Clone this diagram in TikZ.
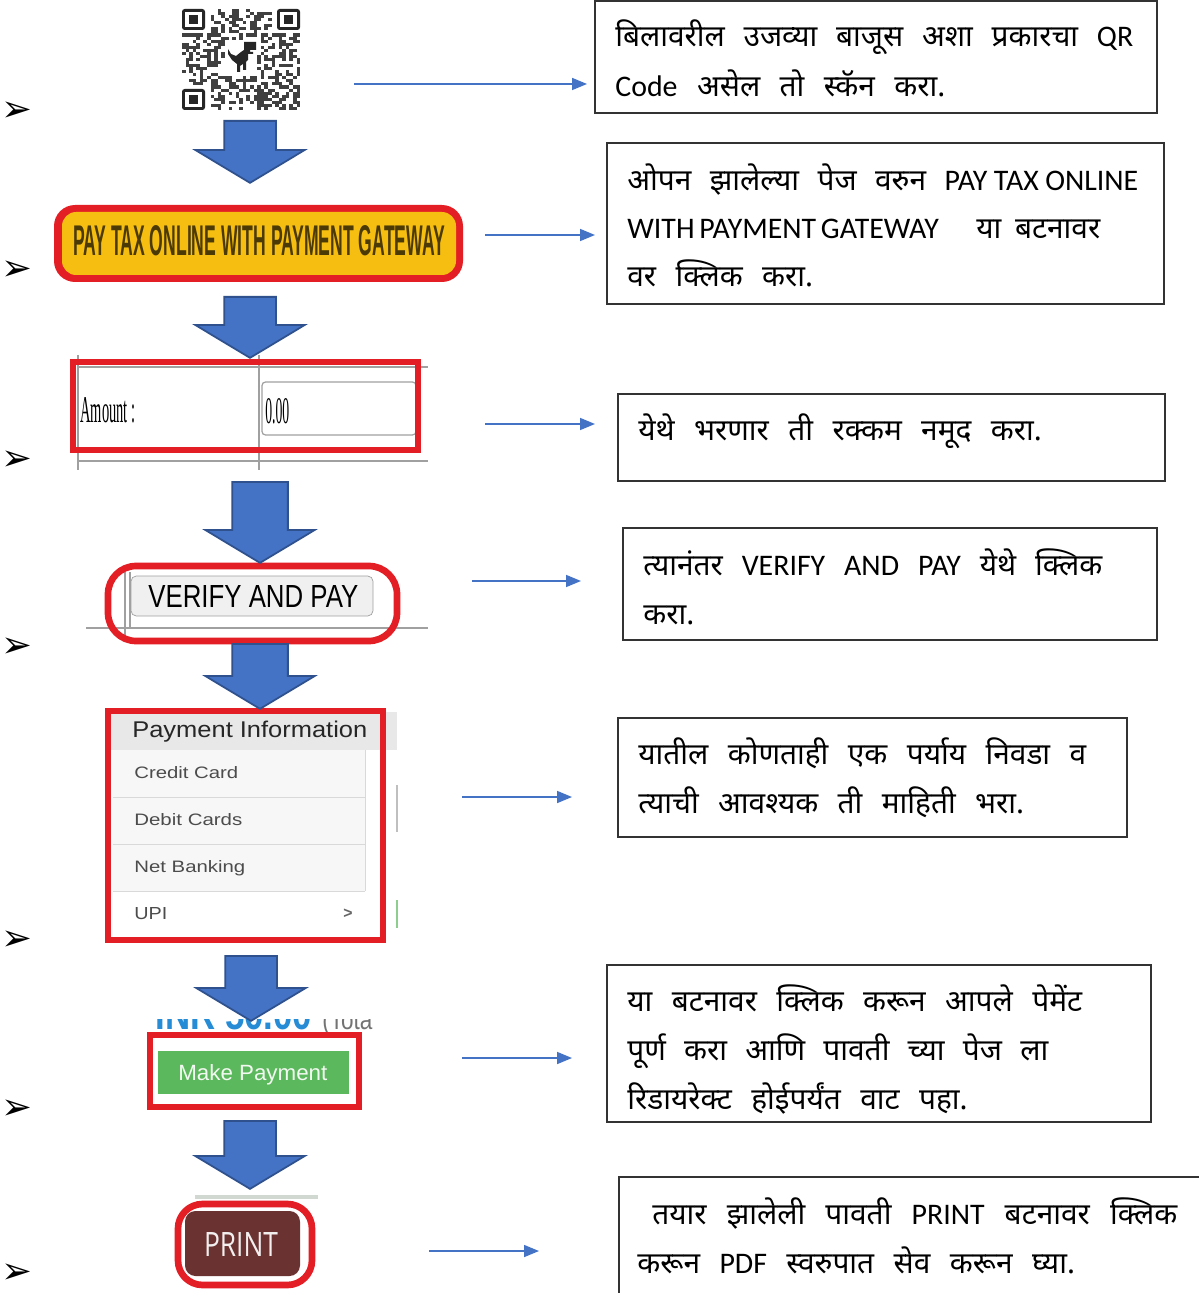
\documentclass[tikz,border=0pt]{standalone}
\usepackage{fontspec}
\setmainfont{Carlito}
\setsansfont{Liberation Sans}
\newfontfamily\timesfont{Liberation Serif}
\newfontfamily\opensans{Open Sans}
\newfontfamily\deva[Script=Devanagari, WordSpace=2.5]{Noto Sans}
\newfontfamily\symfont{DejaVu Sans}
\usetikzlibrary{arrows.meta, shapes.arrows}
\definecolor{flowblue}{RGB}{68,114,196}
\definecolor{flowedge}{RGB}{47,82,143}
\definecolor{markred}{RGB}{227,30,36}
\definecolor{gateyellow}{RGB}{246,190,16}
\definecolor{gatetext}{RGB}{75,58,5}
\definecolor{webgray}{RGB}{160,160,160}
\definecolor{paygreen}{RGB}{92,184,92}
\definecolor{printbrown}{RGB}{107,50,50}
\definecolor{inrblue}{RGB}{38,140,214}
\newcommand\en[1]{{\rmfamily #1}}
\newcommand\jl[2]{\makebox[#1][s]{#2}}

\begin{document}
\begin{tikzpicture}[x=0.02cm, y=-0.02cm,
    infobox/.style={draw=black!80, line width=1.1pt, inner sep=0pt},
    txtline/.style={anchor=base west, inner sep=0pt, font=\deva\fontsize{17}{20}\selectfont},
    shot/.style={anchor=base west, inner sep=0pt},
    link/.style={draw=flowblue, line width=0.9pt, -{Triangle[length=0.3cm, width=0.24cm]}},
    downarr/.style={single arrow, rotate=-90, anchor=tail, fill=flowblue, draw=flowedge,
      line width=1pt, inner xsep=0pt, inner ysep=0.5cm, single arrow head extend=0.58cm,
      single arrow tip angle=118},
    redmark/.style={draw=markred, line width=3.8pt},
    bullet/.style={inner sep=0pt, font=\symfont\fontsize{21}{21}\selectfont},
  ]
  \useasboundingbox (0,0) rectangle (1198,1293);
  \fill[white] (0,0) rectangle (1198,1293);

  % QR code
  \node[inner sep=0pt, minimum width=2.36cm, minimum height=2.02cm] (qr) at (241,59.5) {};
  \pgfmathsetseed{11}
  \foreach \i in {0,...,32}{
    \foreach \j in {0,...,32}{
      \pgfmathtruncatemacro{\keep}{(rnd<0.45)&&!(\i<8&&\j<8)&&!(\i>24&&\j<8)&&!(\i<8&&\j>24)&&!(\i>11&&\i<21&&\j>9&&\j<22)}
      \ifnum\keep=1 \fill[black!75] (182+\i*3.58,9+\j*3.06) rectangle ++(3.58,3.06); \fi
    }}
  \foreach \fx/\fy in {182/9, 277/9, 182/89}{
    \fill[black!85, rounded corners=1.5pt] (\fx,\fy) rectangle ++(23,21);
    \fill[white] (\fx+3.4,\fy+3) rectangle ++(16.2,15);
    \fill[black!85] (\fx+6.8,\fy+6) rectangle ++(9.4,9);
  }
  \fill[black!85] (244,42) -- (256,42) -- (256,50) -- (250,50) -- (250,52) -- (253,52) -- (253,54)
    -- (248,54) -- (248,60) -- (246,62) -- (246,70) -- (243,70) -- (243,64) -- (240,66) -- (240,72)
    -- (237,72) -- (237,64) -- (232,60) -- (228,54) -- (228,49) -- (231,54) -- (236,56) -- (241,52)
    -- (244,50) -- cycle;

  % pay tax button
  \fill[markred, rounded corners=12pt] (54,205) rectangle (463,282);
  \fill[gateyellow, rounded corners=8pt] (62,212) rectangle (456,275);
  \node[inner sep=0pt, text=gatetext] (paytax) at (259,241)
    {\resizebox{7.44cm}{0.6cm}{\sffamily\bfseries PAY TAX ONLINE WITH PAYMENT GATEWAY}};

  % amount form
  \draw[webgray, line width=0.8pt] (78,355) -- (78,470) (259,355) -- (259,470)
    (78,367) -- (428,367) (78,461) -- (428,461);
  \draw[webgray, line width=0.7pt, rounded corners=2pt] (262,382) rectangle (416,435);
  \node[shot] (amtlbl) at (80,423) {\resizebox{1.1cm}{0.5cm}{\timesfont Amount :}};
  \node[shot] (amtval) at (265,423) {\resizebox{0.48cm}{0.5cm}{\timesfont 0.00}};
  \draw[redmark] (73,362) rectangle (418,450);

  % verify button
  \draw[webgray, line width=0.8pt] (86,628) -- (428,628) (125,572) -- (125,640) (130,572) -- (130,628);
  \draw[fill=black!6, draw=webgray, rounded corners=3pt] (131,576) rectangle (373,616);
  \node[shot] (verify) at (148,607) {\resizebox{4.2cm}{0.44cm}{\sffamily VERIFY AND PAY}};
  \draw[redmark, rounded corners=16pt] (108,566) rectangle (397,641);

  % payment information
  \fill[black!9] (110,712) rectangle (397,750);
  \fill[black!3] (113,750) rectangle (365,891);
  \draw[black!15] (113,797) -- (365,797) (113,844) -- (365,844) (113,891) -- (365,891)
    (365,750) -- (365,891);
  \node[shot, text=black!85] (payhead) at (132,737) {\resizebox{4.7cm}{0.33cm}{\sffamily Payment Information}};
  \foreach \t/\w/\yy/\nm in {Credit Card/2.08cm/778/cc, Debit Cards/2.16cm/825/dc,
      Net Banking/2.22cm/872/nb, UPI/0.66cm/919/upi}
    \node[shot, text=black!70] (\nm) at (134,\yy) {\resizebox{\w}{0.24cm}{\sffamily \t}};
  \node[inner sep=0pt, text=black!60] (upiarrow) at (348,914) {\sffamily\bfseries\small >};
  \draw[black!25, line width=0.8pt] (397,785) -- (397,832);
  \draw[paygreen!70, line width=0.8pt] (397,900) -- (397,928);
  \draw[redmark] (108,711) rectangle (383,940);

  % make payment
  \begin{scope}
    \clip (150,1019) rectangle (380,1031);
    \node[shot, text=inrblue] (inr) at (155,1029) {\resizebox{3.14cm}{0.6cm}{\sffamily\bfseries INR 50.00}};
    \node[shot, text=black!55] (total) at (322,1029) {\resizebox{1.0cm}{0.4cm}{\sffamily (Tota}};
  \end{scope}
  \fill[paygreen] (158,1051) rectangle (349,1094);
  \node[shot, text=white!92!paygreen] (makepay) at (178,1080) {\resizebox{2.98cm}{0.32cm}{\sffamily Make Payment}};
  \draw[redmark] (150,1035) rectangle (359,1107);

  % print
  \draw[green!15!black!18, line width=2pt] (195,1197) -- (318,1197);
  \fill[printbrown, rounded corners=6pt] (185,1211) rectangle (300,1276);
  \node[inner sep=0pt, text=white!92!printbrown] (print) at (241,1244) {\resizebox{1.48cm}{0.48cm}{\opensans PRINT}};
  \draw[redmark, rounded corners=14pt] (178,1204) rectangle (312,1285);

  % block arrows
  \node[downarr, minimum height=1.24cm] (d1) at (250,120) {};
  \node[downarr, minimum height=1.22cm] (d2) at (250,296) {};
  \node[downarr, minimum height=1.62cm, inner ysep=0.54cm, single arrow head extend=0.54cm] (d3) at (260,481) {};
  \node[downarr, minimum height=1.30cm, inner ysep=0.54cm, single arrow head extend=0.54cm] (d4) at (260,643) {};
  \node[downarr, minimum height=1.30cm] (d5) at (251,955) {};
  \node[downarr, minimum height=1.36cm] (d6) at (250,1120) {};

  % bullets
  \foreach \yy [count=\k] in {112,271,461,648,941,1110,1274}
    \node[bullet] (m\k) at (17,\yy) {➢};

  % text boxes
  \node[infobox, minimum width=11.24cm, minimum height=2.24cm] (box1) at (876,57) {};
  \node[infobox, minimum width=11.14cm, minimum height=3.22cm] (box2) at (885.5,223.5) {};
  \node[infobox, minimum width=10.94cm, minimum height=1.74cm] (box3) at (891.5,437.5) {};
  \node[infobox, minimum width=10.68cm, minimum height=2.24cm] (box4) at (890,584) {};
  \node[infobox, minimum width=10.18cm, minimum height=2.38cm] (box5) at (872.5,777.5) {};
  \node[infobox, minimum width=10.88cm, minimum height=3.14cm] (box6) at (879,1043.5) {};
  \node[infobox, minimum width=11.9cm, minimum height=2.7cm] (box7) at (916,1244.5) {};

  \node[txtline] (b1a) at (615,47) {\jl{10.36cm}{बिलावरील उजव्या बाजूस अशा प्रकारचा \en{QR}}};
  \node[txtline] (b1b) at (615,97) {\en{Code} असेल तो स्कॅन करा.};
  \node[txtline] (b2a) at (627,191) {\jl{10.22cm}{ओपन झालेल्या पेज वरुन \en{PAY TAX ONLINE}}};
  \node[txtline] (b2b) at (627,239) {\jl{9.46cm}{\en{WITH PAYMENT GATEWAY}\hspace{0.8em} या बटनावर}};
  \node[txtline] (b2c) at (627,287) {वर क्लिक करा.};
  \node[txtline] (b3a) at (638,440) {येथे भरणार ती रक्कम नमूद करा.};
  \node[txtline] (b4a) at (643,575) {\jl{9.18cm}{त्यानंतर \en{VERIFY} \en{AND} \en{PAY} येथे क्लिक}};
  \node[txtline] (b4b) at (643,624) {करा.};
  \node[txtline] (b5a) at (638,764) {\jl{8.96cm}{यातील कोणताही एक पर्याय निवडा व}};
  \node[txtline] (b5b) at (638,813) {त्याची आवश्यक ती माहिती भरा.};
  \node[txtline] (b6a) at (627,1011) {\jl{9.1cm}{या बटनावर क्लिक करून आपले पेमेंट}};
  \node[txtline] (b6b) at (627,1060) {\jl{8.42cm}{पूर्ण करा आणि पावती च्या पेज ला}};
  \node[txtline] (b6c) at (627,1109) {रिडायरेक्ट होईपर्यंत वाट पहा.};
  \node[txtline] (b7a) at (652,1224) {\jl{10.5cm}{तयार झालेली पावती \en{PRINT} बटनावर क्लिक}};
  \node[txtline] (b7b) at (637,1273) {करून \en{PDF} स्वरुपात सेव करून घ्या.};

  % links
  \foreach \k/\xa/\xb/\yy in {1/354/587/84, 2/485/595/235, 3/485/595/424, 4/472/581/581,
      5/462/572/797, 6/462/572/1058, 7/429/539/1251}{
    \coordinate (s\k) at (\xa,\yy);
    \coordinate (e\k) at (\xb,\yy);
    \draw[link] (s\k) -- (e\k);
  }
\end{tikzpicture}
\end{document}
